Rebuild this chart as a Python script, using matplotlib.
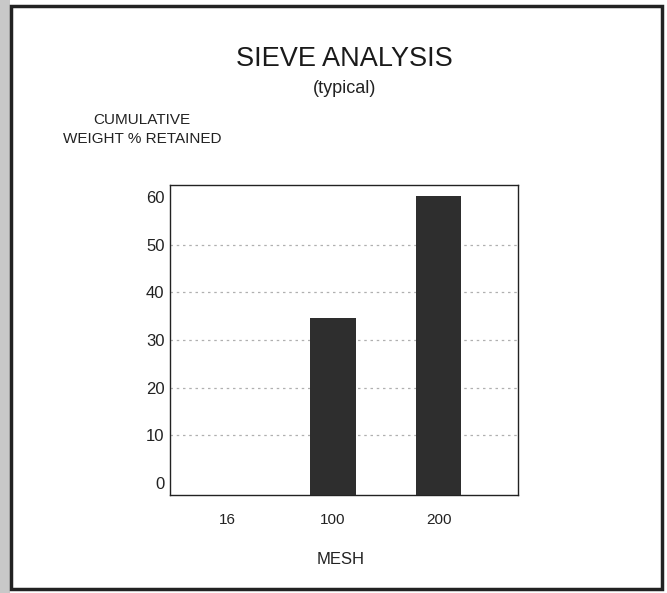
import numpy as np
import matplotlib.pyplot as plt
from matplotlib.patches import Rectangle

# data
mesh = ['16', '100', '200']
retained = [0, 34.6, 60.2]
yticks = [0, 10, 20, 30, 40, 50, 60]

plt.rcParams['font.family'] = ['Liberation Sans', 'DejaVu Sans']

fig = plt.figure(figsize=(6.67, 5.93), dpi=100)
ax = fig.add_axes([0.2549, 0.1653, 0.5217, 0.5228])

ymin, ymax = -2.5, 62.5
x = np.arange(len(mesh))
vals = np.array(retained)
# bars in the original start at the bottom of the frame, not at zero;
# an empty class (16 mesh) gets no bar at all
heights = np.where(vals > 0, vals - ymin, 0)
ax.bar(x, heights, bottom=ymin, width=0.43, color='#2e2e2e', zorder=3)

ax.set_xlim(-0.54, 2.75)
ax.set_ylim(ymin, ymax)
ax.set_xticks(x)
ax.set_xticklabels(mesh, fontsize=11, color='#222222')
ax.set_yticks(yticks)
ax.set_yticklabels([str(v) for v in yticks], fontsize=12, color='#222222')
ax.tick_params(axis='both', length=0)
ax.tick_params(axis='x', pad=13)
ax.tick_params(axis='y', pad=4)

# dotted gridlines at 10..50 only
for v in yticks[1:-1]:
    ax.axhline(v, color='#b0b0b0', linestyle=(0, (2, 3)), linewidth=0.9, zorder=1)

for s in ax.spines.values():
    s.set_linewidth(1.0)
    s.set_color('#222222')

fig.text(0.517, 0.900, 'SIEVE ANALYSIS', ha='center', va='center', fontsize=19.5, color='#1a1a1a')
fig.text(0.517, 0.850, '(typical)', ha='center', va='center', fontsize=13, color='#222222')
fig.text(0.213, 0.798, 'CUMULATIVE', ha='center', va='center', fontsize=11, color='#222222')
fig.text(0.213, 0.766, 'WEIGHT % RETAINED', ha='center', va='center', fontsize=11, color='#222222')
fig.text(0.510, 0.056, 'MESH', ha='center', va='center', fontsize=12, color='#222222')

# frame around the figure plus the grey strip on the left of the scan
fig.patches.append(Rectangle((0, 0), 0.015, 1, transform=fig.transFigure,
                             facecolor='#c8c8c8', edgecolor='none'))
fig.patches.append(Rectangle((0.016, 0.006), 0.977, 0.984, transform=fig.transFigure,
                             facecolor='none', edgecolor='#222222', linewidth=2.5))

fig.savefig('out.png', dpi=100)
